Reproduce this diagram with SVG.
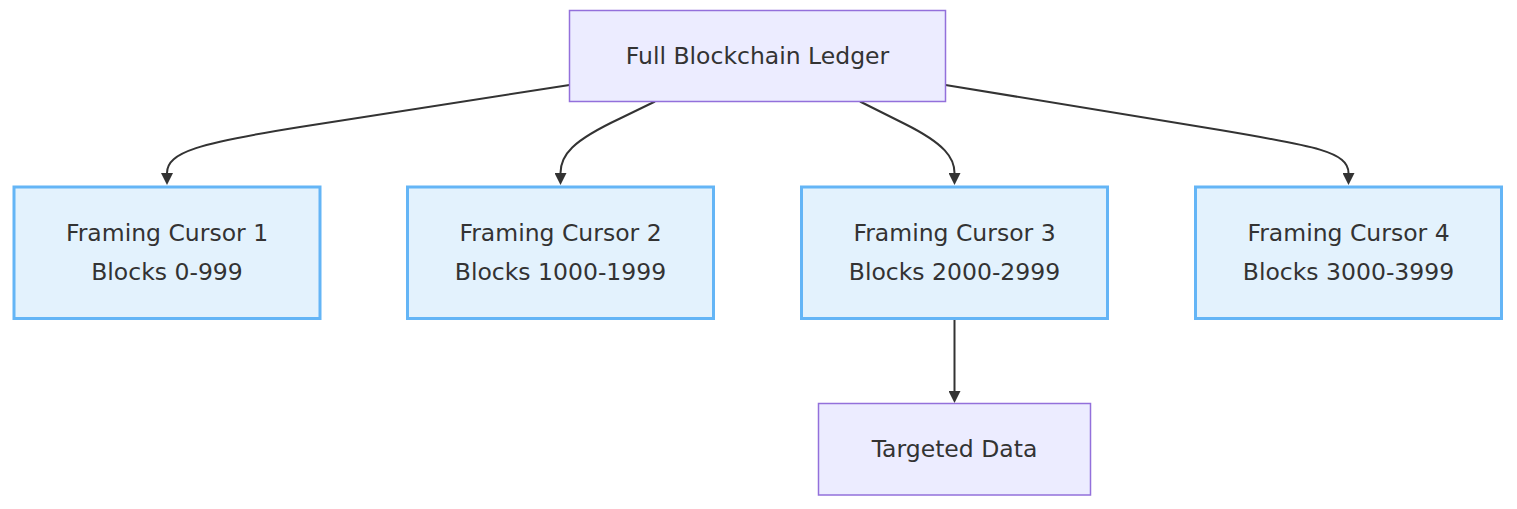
<svg xmlns="http://www.w3.org/2000/svg" width="1517" height="509" viewBox="0 0 1517 509">
<style>
.bg{fill:#ffffff}
.main rect{fill:#ECECFF;stroke:#9370DB;stroke-width:1.5}
.cur rect{fill:#E3F2FD;stroke:#64B5F6;stroke-width:3}
text{font-family:"DejaVu Sans",Verdana,sans-serif;font-size:23.5px;fill:#333333;text-anchor:middle}
.edges path{fill:none;stroke:#333333;stroke-width:2}
</style>
<defs>
<marker id="arrow" viewBox="0 0 10 10" refX="0" refY="5" markerUnits="userSpaceOnUse" markerWidth="12" markerHeight="12" orient="auto">
<path d="M0,0 L10,5 L0,10 z" fill="#333333"/>
</marker>
</defs>
<rect class="bg" x="0" y="0" width="1517" height="509"/>
<g class="edges">
<path d="M569.5,85 L300,127 C200,143 167,152 167,173" marker-end="url(#arrow)"/>
<path d="M655,101.5 L620,118.5 C572,141 560.5,155 560.5,173" marker-end="url(#arrow)"/>
<path d="M860,101.5 L905,124 C945,144 954.5,158 954.5,173" marker-end="url(#arrow)"/>
<path d="M945.5,85 L1220,130 C1315,146 1348.5,152 1348.5,173" marker-end="url(#arrow)"/>
<path d="M954.5,319.5 L954.5,391" marker-end="url(#arrow)"/>
</g>
<g id="ledger" class="main">
<rect x="569.5" y="10.5" width="376" height="91"/>
<text x="757.5" y="63.5">Full Blockchain Ledger</text>
</g>
<g id="cursor1" class="cur">
<rect x="14" y="187" width="306" height="131.5"/>
<text x="167" y="241">Framing Cursor 1</text>
<text x="167" y="280">Blocks 0-999</text>
</g>
<g id="cursor2" class="cur">
<rect x="407.5" y="187" width="306" height="131.5"/>
<text x="560.5" y="241">Framing Cursor 2</text>
<text x="560.5" y="280">Blocks 1000-1999</text>
</g>
<g id="cursor3" class="cur">
<rect x="801.5" y="187" width="306" height="131.5"/>
<text x="954.5" y="241">Framing Cursor 3</text>
<text x="954.5" y="280">Blocks 2000-2999</text>
</g>
<g id="cursor4" class="cur">
<rect x="1195.5" y="187" width="306" height="131.5"/>
<text x="1348.5" y="241">Framing Cursor 4</text>
<text x="1348.5" y="280">Blocks 3000-3999</text>
</g>
<g id="target" class="main">
<rect x="818.5" y="403.5" width="272" height="91.5"/>
<text x="954.5" y="456.5">Targeted Data</text>
</g>
</svg>
